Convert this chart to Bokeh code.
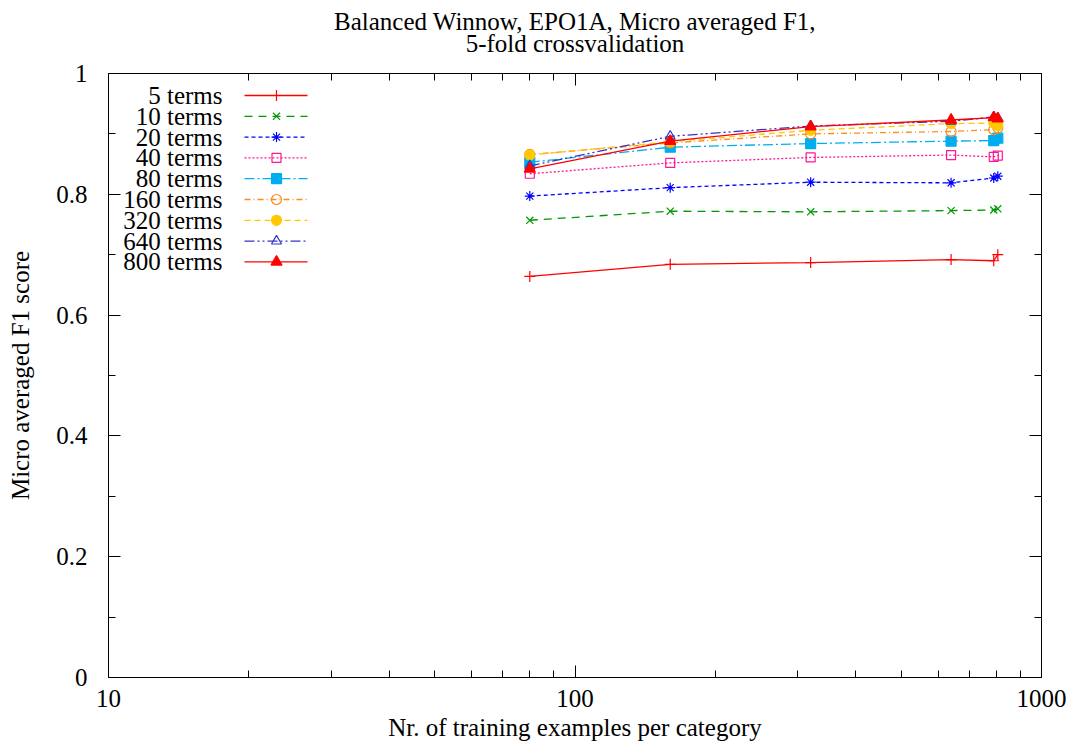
from bokeh.plotting import figure
from bokeh.models import (LogAxis, LinearAxis, FixedTicker, Range1d,
                          NumeralTickFormatter, Title)
from bokeh.embed import file_html
from bokeh.resources import INLINE
from bokeh.core.properties import value

# ---------------- data ----------------
train_sizes = [80, 160, 320, 640, 790, 806]
series_labels = ["5 terms", "10 terms", "20 terms", "40 terms", "80 terms",
                 "160 terms", "320 terms", "640 terms", "800 terms"]
f1_5 = [0.664, 0.684, 0.687, 0.692, 0.690, 0.700]
f1_10 = [0.757, 0.772, 0.771, 0.773, 0.774, 0.776]
f1_20 = [0.797, 0.811, 0.820, 0.819, 0.827, 0.830]
f1_40 = [0.834, 0.852, 0.861, 0.865, 0.862, 0.864]
f1_80 = [0.853, 0.878, 0.884, 0.888, 0.889, 0.893]
f1_160 = [0.866, 0.885, 0.900, 0.904, 0.907, 0.910]
f1_320 = [0.865, 0.887, 0.906, 0.917, 0.918, 0.914]
f1_640 = [0.847, 0.896, 0.913, 0.921, 0.928, 0.926]
f1_800 = [0.842, 0.888, 0.912, 0.923, 0.927, 0.925]
series_values = [f1_5, f1_10, f1_20, f1_40, f1_80, f1_160, f1_320, f1_640, f1_800]

x_major = [10, 100, 1000]
x_minor = [20, 30, 40, 50, 60, 70, 80, 90, 200, 300, 400, 500, 600, 700, 800, 900]
y_major = [0, 0.2, 0.4, 0.6, 0.8, 1.0]
y_minor = [0.1, 0.3, 0.5, 0.7, 0.9]

title_lines = ["Balanced Winnow, EPO1A, Micro averaged F1,", "5-fold crossvalidation"]

# ---------------- styles ----------------
colors = ["#ff0000", "#009900", "#0000ff", "#ff1493", "#00aeef",
          "#ff8a1f", "#ffc800", "#3333cc", "#ff0000"]
dashes = ["solid", "8 6", "4 3", "2 2", "10 3 2 3", "6 3 1 3",
          "6 4", "10 3 2 3 2 3", "solid"]
markers = ["cross", "x", "asterisk", "square", "square", "circle",
           "circle", "triangle", "triangle"]
filled = [False, False, False, False, True, False, True, False, True]
msizes = [11, 10, 10, 9, 10, 10, 10, 10, 11]

FONT = "Liberation Serif"
FS = "25px"

W, H = 1070, 745
p = figure(width=W, height=H, x_axis_type="log",
           x_range=Range1d(10, 1000), y_range=Range1d(0, 1),
           output_backend="svg", toolbar_location=None,
           min_border_left=108, min_border_right=29,
           min_border_top=73, min_border_bottom=68)
p.xgrid.visible = False
p.ygrid.visible = False
p.outline_line_color = "black"
p.outline_line_width = 1
p.background_fill_color = "white"
p.border_fill_color = "white"


def style_axis(ax, ticker, show_labels):
    ax.ticker = ticker
    ax.major_tick_in = 12
    ax.major_tick_out = 0
    ax.minor_tick_in = 7
    ax.minor_tick_out = 0
    ax.major_tick_line_color = "black"
    ax.minor_tick_line_color = "black"
    ax.axis_line_color = "black"
    ax.major_label_text_font = FONT
    if show_labels:
        ax.major_label_text_font_size = FS
        ax.major_label_text_color = "black"
    else:
        ax.major_label_text_font_size = "1px"
        ax.major_label_text_alpha = 0.0
    ax.axis_label_text_font = FONT
    ax.axis_label_text_font_size = FS
    ax.axis_label_text_font_style = "normal"
    ax.axis_label_text_color = "black"


xt = FixedTicker(ticks=x_major, minor_ticks=x_minor)
yt = FixedTicker(ticks=y_major, minor_ticks=y_minor)

xa = p.xaxis[0]
style_axis(xa, xt, True)
xa.formatter = NumeralTickFormatter(format="0")
xa.axis_label = "Nr. of training examples per category"
xa.major_label_standoff = 12
xa.axis_label_standoff = 4

ya = p.yaxis[0]
style_axis(ya, yt, True)
ya.formatter = NumeralTickFormatter(format="0.[0]")
ya.axis_label = "Micro averaged F1 score"
ya.major_label_standoff = 21
ya.axis_label_standoff = 19

# mirrored top axis; its label carries the second title line
top = LogAxis()
style_axis(top, FixedTicker(ticks=x_major, minor_ticks=x_minor), False)
top.major_label_standoff = 0
top.axis_line_color = None
top.axis_label = title_lines[1]
top.axis_label_standoff = 17
p.add_layout(top, "above")

right = LinearAxis()
style_axis(right, FixedTicker(ticks=y_major, minor_ticks=y_minor), False)
right.major_label_standoff = 0
right.axis_line_color = None
p.add_layout(right, "right")

title = Title(text=title_lines[0], align="center", text_font=FONT,
              text_font_size=FS, text_font_style="normal", text_color="black",
              standoff=-16)
p.add_layout(title, "above")

# ---------------- data lines ----------------
for vals, c, d, m, f, s in zip(series_values, colors, dashes, markers, filled, msizes):
    p.line(train_sizes, vals, line_color=c, line_width=1.3, line_dash=d)
    p.scatter(train_sizes, vals, marker=m, size=s, line_color=c, line_width=1.2,
              fill_color=c if f else None)

# ---------------- legend (gnuplot style: label, then sample) ----------------
FL, FR, FT, FB = 108, 1041, 73, 677   # frame edges in pixels
DEC = (FR - FL) / 2.0


def px_x(px):
    return 10 ** (1 + (px - FL) / DEC)


def px_y(py):
    return (FB - py) / (FB - FT)


row0, row_step = 95.0, 20.8
for i, (lab, c, d, m, f, s) in enumerate(zip(series_labels, colors, dashes,
                                              markers, filled, msizes)):
    yy = px_y(row0 + i * row_step)
    p.text(x=[px_x(222)], y=[yy], text=[lab], text_align="right",
           text_baseline="middle", text_font=value(FONT), text_font_size=FS,
           text_color="black")
    p.line([px_x(244), px_x(307)], [yy, yy], line_color=c, line_width=1.3,
           line_dash=d)
    p.scatter([px_x(276)], [yy], marker=m, size=s, line_color=c, line_width=1.2,
              fill_color=c if f else None)

open("out.html", "w").write(file_html(p, INLINE))
